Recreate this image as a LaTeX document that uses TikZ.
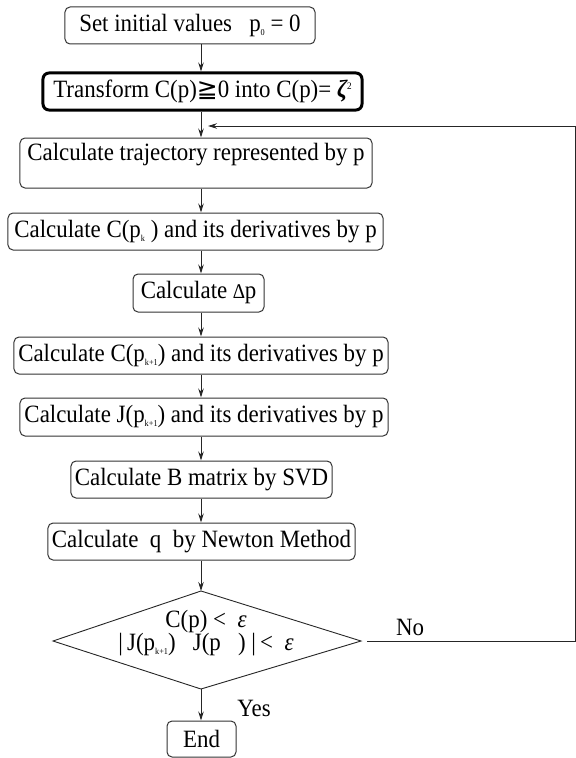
\documentclass[tikz,border=0pt]{standalone}
\usepackage{fontspec}
\setmainfont[FakeStretch=0.92]{Liberation Serif}
\newfontfamily\symf{DejaVu Sans}
\usetikzlibrary{arrows.meta}
\newcommand{\lowsub}[1]{\raisebox{-4bp}{\fontsize{9}{9}\selectfont #1}}
\begin{document}
\begin{tikzpicture}[x=1bp,y=-1bp,
  font=\fontsize{25}{28}\selectfont,
  box/.style={draw=black!80, line width=1bp, rounded corners=5bp, minimum height=37bp, inner sep=0pt},
  arr/.style={draw=black!85, line width=0.9bp, -{Stealth[length=9bp,width=5.5bp]}},
  plain/.style={draw=black!85, line width=0.9bp}]
\useasboundingbox (0,0) rectangle (576,758);
\coordinate (ax) at (201,0);
\node[box, minimum width=250bp] (b1) at (190,25.5) {Set initial values \ \ p\lowsub{0} = 0};
\node[box, draw=black, line width=3bp, rounded corners=6bp, minimum width=319bp] (b2) at (202.5,91.5) {Transform C(p){\symf ≧}0 into C(p)= {\bfseries\itshape ζ}\raisebox{8bp}{\fontsize{10}{10}\selectfont 2}};
\node[box, minimum width=352bp, minimum height=50bp, text height=17bp, text depth=22bp] (b3) at (196,163) {Calculate trajectory represented by p};
\node[box, minimum width=375bp] (b4) at (195.5,231.5) {Calculate C(p\lowsub{k}\ ) and its derivatives by p};
\node[box, minimum width=131bp, minimum height=38bp] (b5) at (198.5,293) {Calculate {\fontsize{21}{21}\selectfont ∆}p};
\node[box, minimum width=374bp] (b6) at (201,355.5) {Calculate C(p\lowsub{k+1}) and its derivatives by p};
\node[box, minimum width=368bp, minimum height=38bp] (b7) at (204,417) {Calculate J(p\lowsub{k+1}) and its derivatives by p};
\node[box, minimum width=261bp] (b8) at (201.5,479.5) {Calculate B matrix by SVD};
\node[box, minimum width=307bp] (b9) at (201.5,541.5) {Calculate \ q \ by Newton Method};
\coordinate (dT) at (201,591);
\coordinate (dR) at (361,641);
\coordinate (dB) at (201,689);
\coordinate (dL) at (53,641);
\draw[plain] (dT) -- (dR) -- (dB) -- (dL) -- cycle;
\node[align=center, inner sep=0pt] (dtext) at (206,633) {C(p) < \ {\itshape ε}\\[-4bp]|\,J(p\lowsub{k+1}) \ \ J(p \ \ ) |\,< \ {\itshape ε}};
\node[box, minimum width=69bp, minimum height=36bp] (end) at (201.5,739) {End};
\node[inner sep=0pt] (no) at (410,627) {No};
\node[inner sep=0pt] (yes) at (254,708) {Yes};
\coordinate (fb) at (208,126);
\coordinate (rc) at (575,641);
\draw[arr] (b1.south -| ax) -- (b2.north -| ax);
\draw[arr] (b2.south -| ax) -- (b3.north -| ax);
\draw[arr] (b3.south -| ax) -- (b4.north -| ax);
\draw[arr] (b4.south -| ax) -- (b5.north -| ax);
\draw[arr] (b5.south -| ax) -- (b6.north -| ax);
\draw[arr] (b6.south -| ax) -- (b7.north -| ax);
\draw[arr] (b7.south -| ax) -- (b8.north -| ax);
\draw[arr] (b8.south -| ax) -- (b9.north -| ax);
\draw[arr] (b9.south -| ax) -- (dT);
\draw[arr] (dB) -- (end.north -| ax);
\draw[arr] ([xshift=6bp]dR) -- (rc) |- (fb);
\end{tikzpicture}
\end{document}
